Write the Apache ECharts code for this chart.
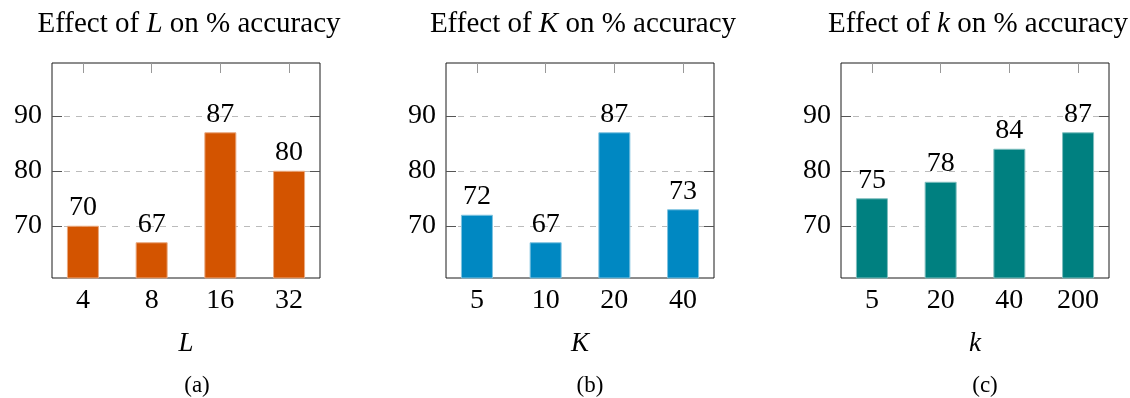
<!DOCTYPE html>
<html>
<head>
<meta charset="utf-8">
<script src="https://cdn.jsdelivr.net/npm/echarts@6/dist/echarts.min.js"></script>
<style>
html,body{margin:0;padding:0;background:#fff;}
#c{width:1130px;height:398px;}
</style>
</head>
<body>
<div id="c"></div>
<script>
// ---- data ----
const catsL = ['4', '8', '16', '32'];
const valsL = [70, 67, 87, 80];
const catsK = ['5', '10', '20', '40'];
const valsK = [72, 67, 87, 73];
const catsk = ['5', '20', '40', '200'];
const valsk = [75, 78, 84, 87];
const yTicks = [70, 80, 90];
const titleVars = ['L', 'K', 'k'];
const captions = ['(a)', '(b)', '(c)'];

const panels = [
  { cats: catsL, vals: valsL, color: '#D35400', edge: '#E9A97F', left: 52 },
  { cats: catsK, vals: valsK, color: '#0088C2', edge: '#7FC3E0', left: 446 },
  { cats: catsk, vals: valsk, color: '#008080', edge: '#7FBFBF', left: 841 }
];
const W = 268, TOP = 63, H = 215;
const FONT = '"Liberation Serif", "DejaVu Serif", serif';

const grid = [], xAxis = [], yAxis = [], series = [], title = [], graphic = [];
panels.forEach((p, i) => {
  grid.push({ left: p.left, top: TOP, width: W, height: H, show: true, borderColor: '#1a1a1a', borderWidth: 1 });
  const idx = p.cats.map((_, j) => j);
  // bottom x axis (labels + name)
  xAxis.push({
    gridIndex: i, type: 'value', min: -0.45, max: 3.45, position: 'bottom',
    axisLine: { show: false, onZero: false }, axisTick: { show: false, customValues: idx }, splitLine: { show: false },
    axisLabel: { customValues: idx, formatter: v => p.cats[Math.round(v)], color: '#000', fontFamily: FONT, fontSize: 28, margin: 9 },
    name: titleVars[i], nameLocation: 'middle', nameGap: 52,
    nameTextStyle: { fontFamily: FONT, fontStyle: 'italic', fontSize: 27, color: '#000' }
  });
  // top x axis (ticks only)
  xAxis.push({
    gridIndex: i, type: 'value', min: -0.45, max: 3.45, position: 'top',
    axisLine: { show: false, onZero: false }, splitLine: { show: false },
    axisTick: { show: true, inside: true, length: 10, customValues: idx, lineStyle: { color: '#999', width: 1 } },
    axisLabel: { show: false, customValues: idx }
  });
  // left y axis
  yAxis.push({
    gridIndex: i, type: 'value', min: 60.5, max: 99.6, position: 'left',
    axisLine: { show: false, onZero: false },
    axisTick: { show: true, inside: true, length: 10, customValues: yTicks, lineStyle: { color: '#555', width: 1 } },
    axisLabel: { customValues: yTicks, color: '#000', fontFamily: FONT, fontSize: 28, margin: 10 },
    splitLine: { show: true, lineStyle: { color: '#bbb', type: [6, 6], width: 1 } }
  });
  // right y axis (ticks only)
  yAxis.push({
    gridIndex: i, type: 'value', min: 60.5, max: 99.6, position: 'right',
    axisLine: { show: false, onZero: false }, splitLine: { show: false },
    axisTick: { show: true, inside: true, length: 10, customValues: yTicks, lineStyle: { color: '#555', width: 1 } },
    axisLabel: { show: false, customValues: yTicks }
  });
  series.push({
    type: 'bar', xAxisIndex: 2 * i, yAxisIndex: 2 * i,
    data: p.vals.map((v, j) => [j, v]),
    barWidth: 32,
    itemStyle: { color: p.color, borderColor: p.edge, borderWidth: 1 },
    label: { show: true, position: 'top', distance: 4, color: '#000', fontFamily: FONT, fontSize: 28, formatter: d => d.value[1] },
    z: 3
  });
  const cx = p.left + W / 2;
  title.push({
    text: '{n|Effect of }{v|' + titleVars[i] + '}{n| on % accuracy}',
    left: cx - 2, top: 5, textAlign: 'center',
    textStyle: {
      fontWeight: 'normal',
      rich: {
        n: { fontFamily: FONT, fontSize: 29, fontWeight: 'normal', color: '#000' },
        v: { fontFamily: FONT, fontSize: 29, fontWeight: 'normal', fontStyle: 'italic', color: '#000' }
      }
    }
  });
});
const capX = [197, 590, 985];
captions.forEach((c, i) => {
  graphic.push({
    type: 'text', x: capX[i], y: 386,
    style: { text: c, font: '23px ' + FONT, fill: '#000', textAlign: 'center', textVerticalAlign: 'middle' }
  });
});

const chart = echarts.init(document.getElementById('c'), null, { renderer: 'canvas' });
chart.setOption({ animation: false, title, grid, xAxis, yAxis, series, graphic });
</script>
</body>
</html>
